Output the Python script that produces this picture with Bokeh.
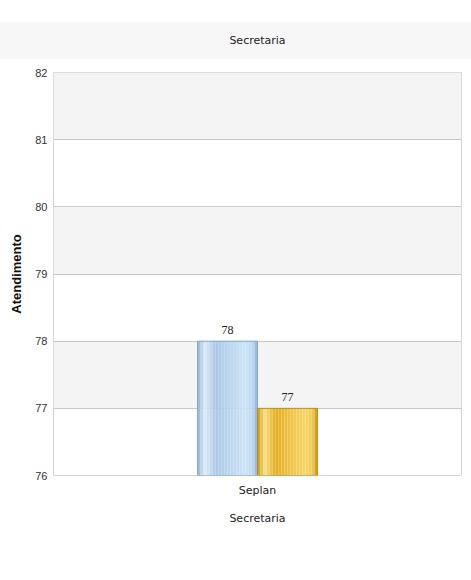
from bokeh.plotting import figure
from bokeh.models import (FactorRange, Range1d, LabelSet, ColumnDataSource, Legend, LegendItem,
                          FixedTicker, Title)
from bokeh.transform import dodge
from bokeh.embed import file_html
from bokeh.resources import INLINE

categories = ["Seplan"]
series = ["Entradas", "Execucao"]
entradas = [78]
execucao = [77]
y_ticks = [76, 77, 78, 79, 80, 81, 82]
chart_title = "Secretaria"

FONT = "DejaVu Sans"

p = figure(x_range=FactorRange(*categories), y_range=Range1d(76, 82),
           frame_width=408, frame_height=403, output_backend="svg", toolbar_location=None,
           min_border_left=53, min_border_right=10, min_border_top=72, min_border_bottom=0,
           title=None)
p.add_layout(Title(text=chart_title, align="center", text_font=FONT, text_font_size="11px",
                   text_font_style="normal", text_color="#222",
                   background_fill_color="#f7f7f7", padding=(260, 12), standoff=27), "above")
p.x_range.range_padding = 0
p.background_fill_color = "white"
p.border_fill_color = "white"
p.outline_line_color = "#d4d4d4"

p.ygrid.ticker = FixedTicker(ticks=y_ticks)
p.ygrid.grid_line_color = "#c8c8c8"
p.ygrid.band_fill_color = "#f4f4f4"
p.ygrid.band_fill_alpha = 1
p.xgrid.grid_line_color = None

p.yaxis.ticker = FixedTicker(ticks=y_ticks)
p.yaxis.axis_line_color = None
p.yaxis.major_tick_line_color = None
p.yaxis.major_tick_out = 0
p.yaxis.major_tick_in = 0
p.yaxis.minor_tick_line_color = None
p.yaxis.major_label_text_font = "Liberation Sans"
p.yaxis.major_label_text_font_size = "11px"
p.yaxis.major_label_text_color = "#333"
p.yaxis.major_label_standoff = 6
p.yaxis.axis_label = "Atendimento"
p.yaxis.axis_label_text_font = "Liberation Sans"
p.yaxis.axis_label_text_font_style = "bold"
p.yaxis.axis_label_text_font_size = "13px"
p.yaxis.axis_label_text_color = "#111"
p.yaxis.axis_label_standoff = 8

p.xaxis.axis_line_color = None
p.xaxis.major_tick_line_color = None
p.xaxis.major_tick_out = 0
p.xaxis.major_tick_in = 0
p.xaxis.major_label_text_font = FONT
p.xaxis.major_label_text_font_size = "11px"
p.xaxis.major_label_text_color = "#222"
p.xaxis.major_label_standoff = 8
p.xaxis.axis_label = "Secretaria"
p.xaxis.axis_label_text_font = FONT
p.xaxis.axis_label_text_font_style = "normal"
p.xaxis.axis_label_text_font_size = "11px"
p.xaxis.axis_label_text_color = "#222"
p.xaxis.axis_label_standoff = 12

src = ColumnDataSource(dict(x=categories, Entradas=entradas, Execucao=execucao,
                            lE=[str(v) for v in entradas], lX=[str(v) for v in execucao]))

bar_w = 0.147
offsets = {"Entradas": -0.0735, "Execucao": 0.0735}
stops = {
    "Entradas": [(0.0, (143, 178, 214)), (0.12, (222, 236, 250)), (0.3, (170, 200, 230)),
                 (0.8, (205, 228, 248)), (0.92, (190, 216, 240)), (1.0, (140, 175, 210))],
    "Execucao": [(0.0, (205, 150, 10)), (0.12, (248, 222, 130)), (0.3, (228, 175, 35)),
                 (0.8, (248, 214, 105)), (0.92, (240, 200, 80)), (1.0, (200, 148, 15))],
}
borders = {"Entradas": "#86a8c8", "Execucao": "#b8901a"}

def interp(st, t):
    for (t0, c0), (t1, c1) in zip(st, st[1:]):
        if t0 <= t <= t1:
            f = (t - t0) / (t1 - t0) if t1 > t0 else 0
            return "#%02x%02x%02x" % tuple(int(round(a + (b - a) * f)) for a, b in zip(c0, c1))
    return "#%02x%02x%02x" % st[-1][1]

N = 20
legend_items = []
for s in series:
    mid = None
    sw = bar_w / N
    for i in range(N):
        t = (i + 0.5) / N
        off = offsets[s] - bar_w / 2 + sw * (i + 0.5)
        r = p.vbar(x=dodge("x", off, range=p.x_range), top=s, bottom=76, width=sw * 1.02,
                   source=src, fill_color=interp(stops[s], t), line_color=None)
        if i == N // 2:
            mid = r
    p.vbar(x=dodge("x", offsets[s], range=p.x_range), top=s, bottom=76, width=bar_w,
           source=src, fill_alpha=0, line_color=borders[s], line_width=1)
    legend_items.append(LegendItem(label=s, renderers=[mid]))

for s, lab in (("Entradas", "lE"), ("Execucao", "lX")):
    p.add_layout(LabelSet(x=dodge("x", offsets[s], range=p.x_range), y=s, text=lab, source=src,
                          text_align="center", text_baseline="bottom", y_offset=7,
                          text_font="Liberation Sans", text_font_size="12px", text_color="#222"))

legend = Legend(items=legend_items, orientation="horizontal", location="center",
                label_text_font="Liberation Sans", label_text_font_size="12px",
                label_text_color="#222", glyph_width=12, glyph_height=16, label_height=16,
                border_line_color="#d4d4d4", padding=8, spacing=14, margin=0,
                label_standoff=6)
p.add_layout(legend, "below")

open("out.html", "w").write(file_html(p, INLINE))
